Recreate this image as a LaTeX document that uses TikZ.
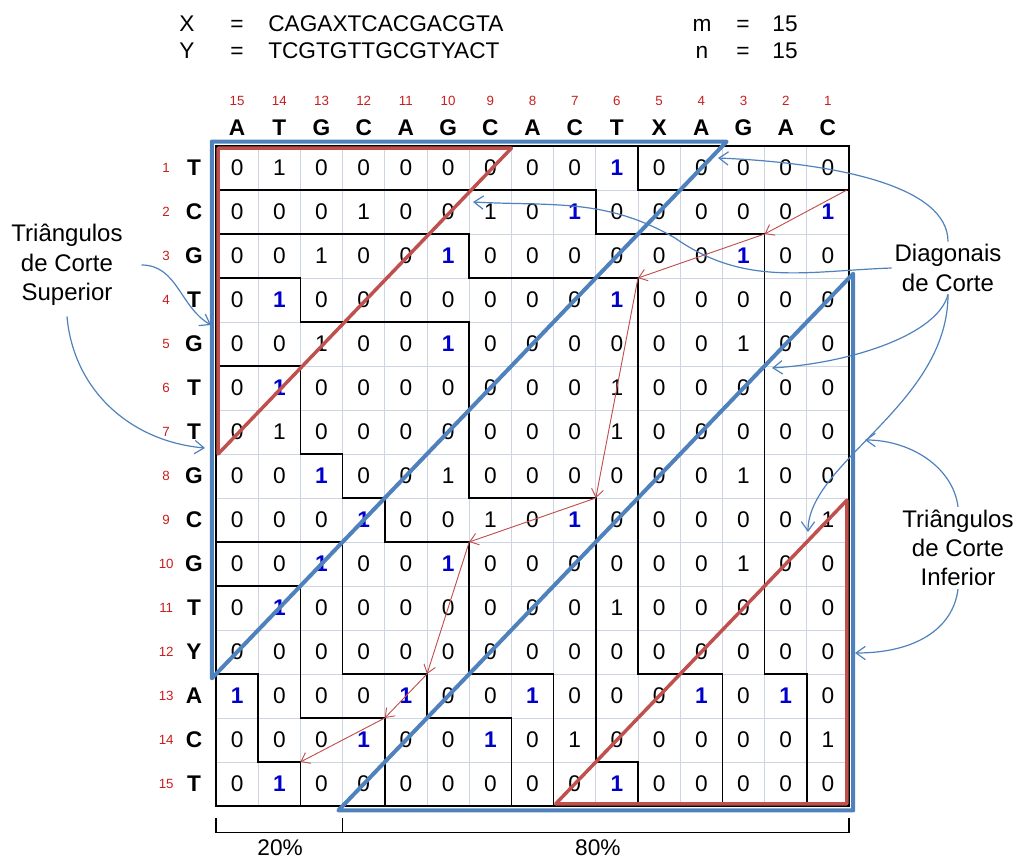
\documentclass[tikz,border=0pt]{standalone}
\usepackage{fontspec}
\setmainfont{Liberation Sans}
\usetikzlibrary{arrows.meta,positioning}
\definecolor{bandblue}{RGB}{79,129,189}
\definecolor{cutred}{RGB}{192,80,77}
\definecolor{hitblue}{RGB}{0,0,204}
\definecolor{idxred}{RGB}{200,30,30}
\definecolor{gridgray}{RGB}{205,212,226}

\begin{document}
\begin{tikzpicture}[x=0.75pt,y=-0.75pt,
    cell/.style={inner sep=0,font=\fontsize{17}{17}\selectfont},
    hit/.style={inner sep=0,text=hitblue,font=\bfseries\fontsize{17}{17}\selectfont},
    hdr/.style={inner sep=0,font=\bfseries\fontsize{17}{17}\selectfont},
    idx/.style={inner sep=0,text=idxred,font=\fontsize{10}{10}\selectfont},
    seq/.style={inner sep=0,font=\fontsize{17}{17}\selectfont},
    lbl/.style={align=center,inner sep=2pt,font=\fontsize{18}{22}\selectfont},
    cont/.style={line width=1.1pt},
    band/.style={draw=bandblue,line width=3pt,line join=round},
    cut/.style={draw=cutred,line width=2.6pt,line join=round},
    trace/.style={cutred,line width=0.7pt,-{Straight Barb[length=6pt,width=9pt]}},
    callout/.style={bandblue,line width=0.9pt,-{Straight Barb[length=7pt,width=10pt]}}]
  \useasboundingbox (0,0) rectangle (1020,863);

  \node[seq,anchor=base] (xlab) at (187,32) {X};
  \node[seq,anchor=base] (xeq) at (237,32) {=};
  \node[seq,anchor=base west] (xseq) at (268,32) {CAGAXTCACGACGTA};
  \node[seq,anchor=base] (ylab) at (187,59) {Y};
  \node[seq,anchor=base] (yeq) at (237,59) {=};
  \node[seq,anchor=base west] (yseq) at (268,59) {TCGTGTTGCGTYACT};
  \node[seq,anchor=base] (mlab) at (702,32) {m};
  \node[seq,anchor=base] (meq) at (743,32) {=};
  \node[seq,anchor=base] (mval) at (785,32) {15};
  \node[seq,anchor=base] (nlab) at (702,59) {n};
  \node[seq,anchor=base] (neq) at (743,59) {=};
  \node[seq,anchor=base] (nval) at (785,59) {15};

  \begin{scope}[shift={(216,146)},x=31.65pt,y=-33pt]
    \foreach \k in {1,...,14} {
      \draw[gridgray,line width=0.5pt] (\k,0) -- (\k,15);
      \draw[gridgray,line width=0.5pt] (0,\k) -- (15,\k);
    }
    \foreach \c [count=\d] in {A,T,G,C,A,G,C,A,C,T,X,A,G,A,C} {
      \pgfmathtruncatemacro\num{16-\d}
      \node[hdr] (col\d) at (\d-0.5,-0.42) {\c};
      \node[idx] (cn\d) at (\d-0.5,-1.02) {\num};
    }
    \foreach \c [count=\i] in {T,C,G,T,G,T,T,G,C,G,T,Y,A,C,T} {
      \node[hdr] (row\i) at (-0.52,\i-0.5) {\c};
      \node[idx] (rn\i) at (-1.18,\i-0.5) {\i};
    }
    % 2 = dominant match
    \foreach \vals [count=\i] in {
        {0,1,0,0,0,0,0,0,0,2,0,0,0,0,0},
        {0,0,0,1,0,0,1,0,2,0,0,0,0,0,2},
        {0,0,1,0,0,2,0,0,0,0,0,0,2,0,0},
        {0,2,0,0,0,0,0,0,0,2,0,0,0,0,0},
        {0,0,1,0,0,2,0,0,0,0,0,0,1,0,0},
        {0,2,0,0,0,0,0,0,0,1,0,0,0,0,0},
        {0,1,0,0,0,0,0,0,0,1,0,0,0,0,0},
        {0,0,2,0,0,1,0,0,0,0,0,0,1,0,0},
        {0,0,0,2,0,0,1,0,2,0,0,0,0,0,1},
        {0,0,2,0,0,2,0,0,0,0,0,0,1,0,0},
        {0,2,0,0,0,0,0,0,0,1,0,0,0,0,0},
        {0,0,0,0,0,0,0,0,0,0,0,0,0,0,0},
        {2,0,0,0,2,0,0,2,0,0,0,2,0,2,0},
        {0,0,0,2,0,0,2,0,1,0,0,0,0,0,1},
        {0,2,0,0,0,0,0,0,0,2,0,0,0,0,0}} {
      \foreach \v [count=\d] in \vals {
        \ifnum\v=2
          \node[hit] (m-\i-\d) at (\d-0.5,\i-0.5) {1};
        \else
          \node[cell] (m-\i-\d) at (\d-0.5,\i-0.5) {\v};
        \fi
      }
    }

    % contours
    \draw[cont] (0,0) rectangle (15,15);
    \draw[cont] (10,0) -- (10,1) -- (15,1);
    \draw[cont] (0,1) -- (9,1) -- (9,2) -- (13,2) -- (13,12) -- (14,12) -- (14,15);
    \draw[cont] (0,2) -- (6,2) -- (6,3) -- (10,3) -- (10,12) -- (12,12) -- (12,15);
    \draw[cont] (0,3) -- (2,3) -- (2,4) -- (6,4) -- (6,8) -- (9,8) -- (9,14) -- (10,14) -- (10,15);
    \draw[cont] (0,5) -- (2,5) -- (2,7) -- (3,7) -- (3,8) -- (4,8) -- (4,9) -- (6,9) -- (6,12) -- (8,12) -- (8,15);
    \draw[cont] (0,9) -- (3,9) -- (3,12) -- (5,12) -- (5,13) -- (7,13) -- (7,15);
    \draw[cont] (0,10) -- (2,10) -- (2,13) -- (4,13) -- (4,15);
    \draw[cont] (0,12) -- (1,12) -- (1,14) -- (2,14) -- (2,15);

    \coordinate (t1) at (14.95,1);
    \coordinate (t2) at (13,2);
    \coordinate (t3) at (10,3);
    \coordinate (t4) at (9,8);
    \coordinate (t5) at (6,9);
    \coordinate (t6) at (5,12);
    \coordinate (t7) at (4,13);
    \coordinate (t8) at (2,14);
    \foreach \a/\b in {t1/t2,t2/t3,t3/t4,t4/t5,t5/t6,t6/t7,t7/t8}
      \draw[trace] (\a) -- (\b);

    \draw[cut] (0.05,0.05) -- (7,0.05) -- (0.05,7) -- cycle;
    \draw[cut] (14.95,8.05) -- (14.95,14.95) -- (8.05,14.95) -- cycle;
    \draw[band] (-0.1,-0.1) -- (12.1,-0.1) -- (-0.1,12.1) -- cycle;
    \draw[band] (15.1,2.9) -- (15.1,15.1) -- (2.9,15.1) -- cycle;

    \draw[line width=0.8pt] (0,15.27) -- (0,15.6) -- (15,15.6) -- (15,15.27);
    \draw[line width=0.8pt] (3,15.27) -- (3,15.6);
    \node[seq] (p20) at (1.52,15.95) {20\%};
    \node[seq] (p80) at (9.05,15.95) {80\%};
  \end{scope}

  \node[lbl] (sup) at (67,265) {Triângulos\\de Corte\\Superior};
  \node[lbl] (diag) at (948,268) {Diagonais\\de Corte};
  \node[lbl] (inf) at (958,548) {Triângulos\\de Corte\\Inferior};

  \coordinate (s1) at (211,325);
  \coordinate (s2) at (205,448);
  \coordinate (d1) at (718,158);
  \coordinate (d2) at (473,202);
  \coordinate (d3) at (772,368);
  \coordinate (d4) at (808,532);
  \coordinate (i1) at (865,440);
  \coordinate (i2) at (855,653);

  \draw[callout] ([xshift=12pt]sup.east) to[out=0,in=150] (s1);
  \draw[callout] ([yshift=-6pt]sup.south) to[out=-85,in=175] (s2);
  \draw[callout] (diag.north) .. controls +(0,-55) and +(120,5) .. (d1);
  \draw[callout] (diag.west) to[out=182,in=-35] (675,238) to[out=150,in=-3] (d2);
  \draw[callout] (diag.south) .. controls +(-10,40) and +(80,-5) .. (d3);
  \draw[callout] (diag.south) .. controls +(0,110) and +(0,-70) .. (d4);
  \draw[callout] (inf.north) .. controls +(-5,-40) and +(45,0) .. (i1);
  \draw[callout] (inf.south) .. controls +(-5,40) and +(60,0) .. (i2);
\end{tikzpicture}
\end{document}
